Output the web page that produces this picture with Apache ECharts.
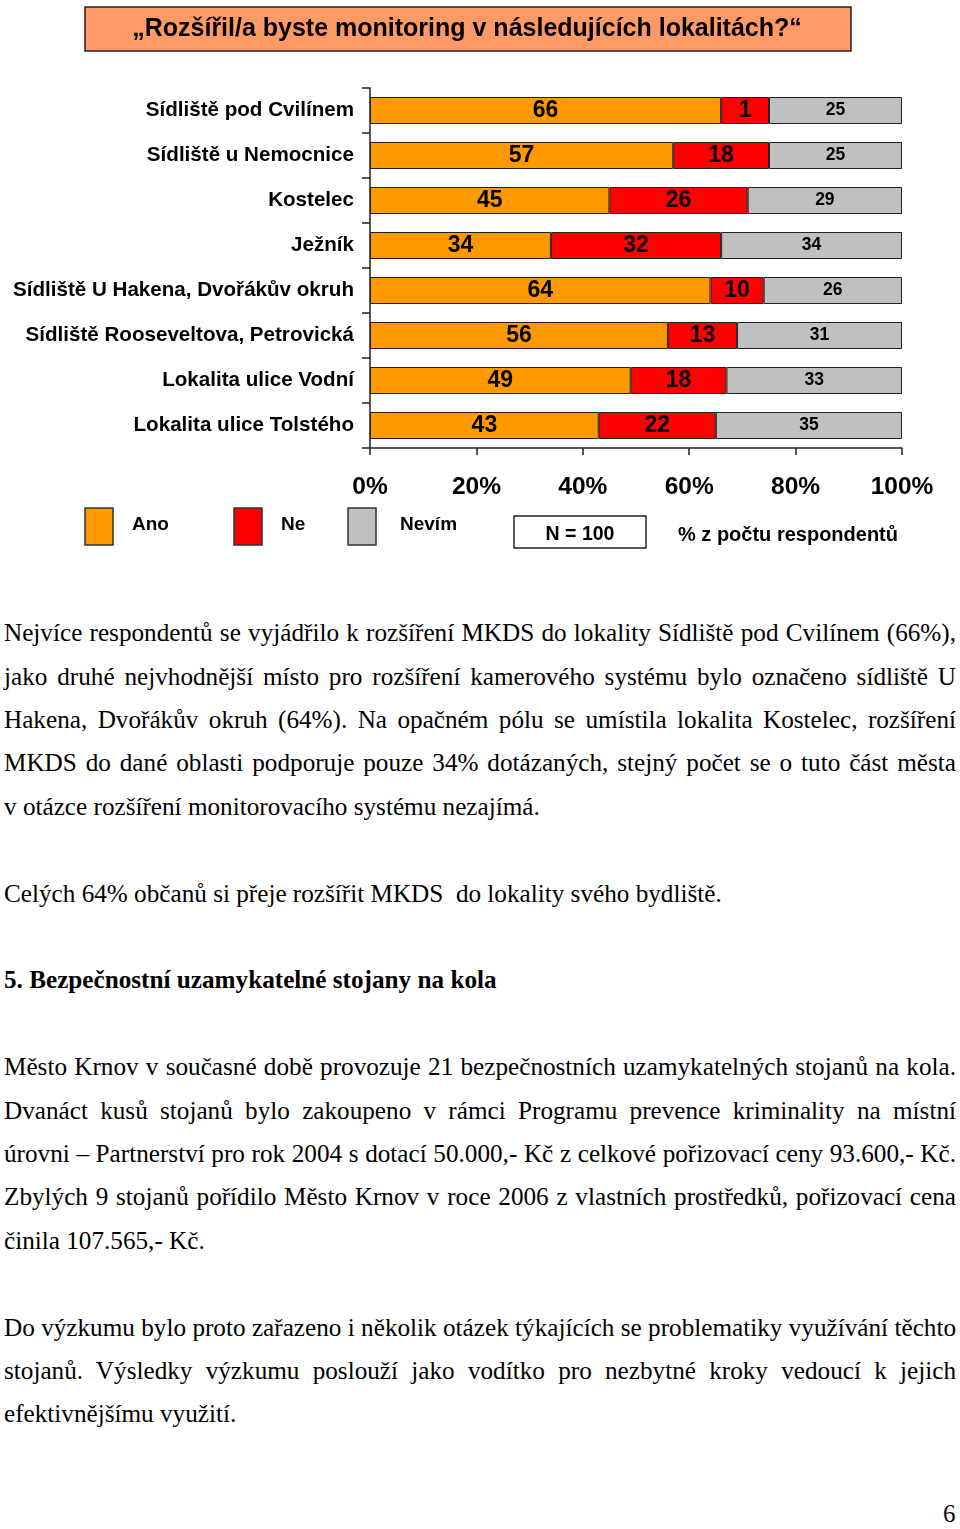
<!DOCTYPE html>
<html>
<head>
<meta charset="utf-8">
<script src="https://cdn.jsdelivr.net/npm/echarts@6/dist/echarts.min.js"></script>
<style>
  html, body { margin: 0; padding: 0; background: #fff; }
  body { width: 960px; height: 1529px; position: relative; overflow: hidden; }
  #chart { position: absolute; left: 0; top: 0; width: 960px; height: 580px; }
  .txt { position: absolute; left: 4px; width: 952px; font-family: "Liberation Serif", "Times New Roman", serif;
         font-size: 25.2px; color: #000; }
  .ln { height: 43.4px; line-height: 43.4px; white-space: nowrap; }
  .ln span { white-space: pre; }
  .b { font-weight: bold; }
  #pg { position: absolute; left: 943px; top: 1500px; font-family: "Liberation Serif", serif; font-size: 25px; }
</style>
</head>
<body>
<div id="chart"></div>
<div class="txt" id="body"></div>
<div id="pg">6</div>
<script>
// ---- data ----
const categories = [
  'Sídliště pod Cvilínem',
  'Sídliště u Nemocnice',
  'Kostelec',
  'Ježník',
  'Sídliště U Hakena, Dvořákův okruh',
  'Sídliště Rooseveltova, Petrovická',
  'Lokalita ulice Vodní',
  'Lokalita ulice Tolstého'
];
const ano   = [66, 57, 45, 34, 64, 56, 49, 43];
// bar lengths as drawn in the picture (first red segment spans ~9 %)
const ne    = [9, 18, 26, 32, 10, 13, 18, 22];
// labels printed on the red segments
const neLabels = ['1', '18', '26', '32', '10', '13', '18', '22'];
const nevim = [25, 25, 29, 34, 26, 31, 33, 35];
const seriesNames = ['Ano', 'Ne', 'Nevím'];
const titleText = '„Rozšířil/a byste monitoring v následujících lokalitách?“';
const nText = 'N = 100';
const unitText = '% z počtu respondentů';

const colors = ['#FF9900', '#FF0000', '#C0C0C0'];
const chart = echarts.init(document.getElementById('chart'), null, { renderer: 'canvas' });
const sans = '"Liberation Sans", Arial, sans-serif';

function mkSeries(name, data, color, fs, fmt) {
  return {
    name, type: 'bar', stack: 'all', data, barWidth: 27,
    itemStyle: { color, borderColor: '#222', borderWidth: 1 },
    label: { show: true, position: 'inside', color: '#000', fontFamily: sans,
             fontWeight: 'bold', fontSize: fs, formatter: fmt || '{c}' },
    emphasis: { disabled: true }
  };
}

const legendGraphics = [];
const legendX = [85, 234, 348];
const legendTextX = [132, 281, 400];
seriesNames.forEach((n, i) => {
  legendGraphics.push({ type: 'rect', shape: { x: legendX[i], y: 508, width: 28, height: 37 },
    style: { fill: colors[i], stroke: '#333', lineWidth: 1.5 } });
  legendGraphics.push({ type: 'text', x: legendTextX[i], y: 525,
    style: { text: n, font: 'bold 19px ' + sans, fill: '#000', textVerticalAlign: 'middle' } });
});

chart.setOption({
  animation: false,
  grid: { left: 370, right: 58, top: 88, height: 360, containLabel: false },
  xAxis: {
    type: 'value', min: 0, max: 100, interval: 20,
    axisLine: { show: true, lineStyle: { color: '#222', width: 1.5 } },
    axisTick: { show: true, length: 7, lineStyle: { color: '#222', width: 1.5 } },
    splitLine: { show: false },
    axisLabel: { margin: 27, color: '#000', fontFamily: sans, fontWeight: 'bold', fontSize: 24.5,
                 formatter: v => v + '%' }
  },
  yAxis: {
    type: 'category', data: categories, inverse: true,
    axisLine: { show: true, lineStyle: { color: '#222', width: 1.5 } },
    axisTick: { show: true, length: 8, lineStyle: { color: '#222', width: 1.5 } },
    axisLabel: { margin: 16, color: '#000', fontFamily: sans, fontWeight: 'bold', fontSize: 20.6 }
  },
  series: [
    mkSeries(seriesNames[0], ano, colors[0], 23),
    mkSeries(seriesNames[1], ne, colors[1], 23, p => neLabels[p.dataIndex]),
    mkSeries(seriesNames[2], nevim, colors[2], 17.5)
  ],
  graphic: [
    { type: 'rect', shape: { x: 85, y: 7, width: 766, height: 44 },
      style: { fill: '#FF9966', stroke: '#222', lineWidth: 1.5 } },
    { type: 'text', x: 467, y: 29,
      style: { text: titleText, font: 'bold 25px ' + sans, fill: '#000', textAlign: 'center', textVerticalAlign: 'middle' } },
    ...legendGraphics,
    { type: 'rect', shape: { x: 514, y: 516, width: 132, height: 32 },
      style: { fill: '#fff', stroke: '#222', lineWidth: 1.5 } },
    { type: 'text', x: 580, y: 535,
      style: { text: nText, font: 'bold 19.5px ' + sans, fill: '#000', textAlign: 'center', textVerticalAlign: 'middle' } },
    { type: 'text', x: 678, y: 535,
      style: { text: unitText, font: 'bold 20px ' + sans, fill: '#000', textVerticalAlign: 'middle' } }
  ]
});

// ---- body text (each line: [text, justified, bold]) ----
const NB = '\u00a0';
const lines = [
  ['Nejvíce respondentů se vyjádřilo k rozšíření MKDS do lokality Sídliště pod Cvilínem (66%),', 1],
  ['jako druhé nejvhodnější místo pro rozšíření kamerového systému bylo označeno sídliště U', 1],
  ['Hakena, Dvořákův okruh (64%). Na opačném pólu se umístila lokalita Kostelec, rozšíření', 1],
  ['MKDS do dané oblasti podporuje pouze 34% dotázaných, stejný počet se o tuto část města', 1],
  ['v otázce rozšíření monitorovacího systému nezajímá.', 0],
  ['', 0],
  ['Celých 64% občanů si přeje rozšířit MKDS  do lokality svého bydliště.', 0],
  ['', 0],
  ['5. Bezpečnostní uzamykatelné stojany na kola', 0, 1],
  ['', 0],
  ['Město Krnov v současné době provozuje 21 bezpečnostních uzamykatelných stojanů na kola.', 1],
  ['Dvanáct kusů stojanů bylo zakoupeno v' + NB + 'rámci Programu prevence kriminality na místní', 1],
  ['úrovni – Partnerství pro rok 2004 s dotací 50.000,- Kč z celkové pořizovací ceny 93.600,- Kč.', 1],
  ['Zbylých 9 stojanů pořídilo Město Krnov v roce 2006 z vlastních prostředků, pořizovací cena', 1],
  ['činila 107.565,- Kč.', 0],
  ['', 0],
  ['Do výzkumu bylo proto zařazeno i několik otázek týkajících se problematiky využívání těchto', 1],
  ['stojanů. Výsledky výzkumu poslouží jako vodítko pro nezbytné kroky vedoucí k' + NB + 'jejich', 1],
  ['efektivnějšímu využití.', 0]
];
const body = document.getElementById('body');
body.style.top = (633 - 21.7) + 'px';
const W = 952;
lines.forEach(l => {
  const d = document.createElement('div');
  d.className = 'ln' + (l[2] ? ' b' : '');
  const s = document.createElement('span');
  s.textContent = l[0] || NB;
  d.appendChild(s);
  body.appendChild(d);
  if (l[1]) {
    const w = s.getBoundingClientRect().width;
    const n = (l[0].match(/[ \u00a0]/g) || []).length;
    if (n > 0) s.style.wordSpacing = ((W - w) / n) + 'px';
  }
});
</script>
</body>
</html>
